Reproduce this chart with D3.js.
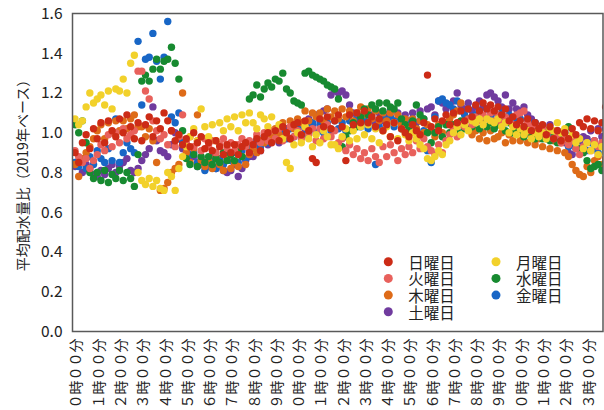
<!DOCTYPE html>
<html>
<head>
<meta charset="utf-8">
<script src="https://cdn.jsdelivr.net/npm/d3@7"></script>
<style>
  html, body { margin: 0; padding: 0; background: #fff; }
  svg { display: block; font-family: "Noto Sans CJK JP", "Noto Sans", sans-serif; }
</style>
</head>
<body>
<svg id="chart" width="604" height="410"></svg>
<script>
// Hourly axis labels (one per hour, 0時 to 23時)
const tickLabels = [
  "０時００分","１時００分","２時００分","３時００分","４時００分","５時００分",
  "６時００分","７時００分","８時００分","９時００分","１０時００分","１１時００分",
  "１２時００分","１３時００分","１４時００分","１５時００分","１６時００分","１７時００分",
  "１８時００分","１９時００分","２０時００分","２１時００分","２２時００分","２３時００分"
];
const tickHours = d3.range(24);

// 10-minute slots through the day (minutes after midnight)
const slots = d3.range(144).map(i => i * 10);

const seriesNames = ["日曜日", "月曜日", "火曜日", "水曜日", "木曜日", "金曜日", "土曜日"];

// Average distribution ratio per 10-minute slot (2019 base); six values per hour
const sun = [
  0.90,0.85,0.95,0.99,0.92,1.02, 0.97,1.05,0.95,1.06,1.01,0.98, 1.07,1.00,1.09,1.03,0.97,1.05, 0.96,1.04,1.08,0.98,1.06,1.02,
  1.10,1.06,1.01,0.96,0.99,0.94, 0.97,0.93,1.00,0.95,0.98,0.92, 0.95,0.91,0.96,0.93,0.89,0.94, 0.90,0.94,0.89,0.93,0.95,0.90,
  0.94,0.97,0.91,0.98,1.00,0.95, 1.01,0.96,1.03,1.00,0.97,1.04, 1.05,0.99,1.06,1.01,0.87,0.85, 1.07,1.03,1.08,1.02,1.06,1.09,
  1.03,0.86,1.09,1.04,1.10,1.05, 1.11,1.05,1.08,1.03,1.07,1.01, 1.04,0.98,1.05,0.96,1.02,1.00, 0.98,1.04,1.01,0.99,1.05,1.29,
  1.03,1.07,1.01,1.06,1.09,1.04, 1.10,1.05,1.11,1.06,1.12,1.08, 1.14,1.11,1.15,1.12,1.14,1.11, 1.13,1.09,1.12,1.06,1.08,1.04,
  1.06,1.03,1.07,1.01,1.05,1.02, 1.04,0.99,1.03,0.97,1.01,0.96, 1.00,0.97,1.02,0.99,1.05,1.03, 1.07,1.02,1.06,1.01,1.05,1.13
];
const mon = [
  1.07,1.04,1.06,1.13,1.20,1.15, 1.17,1.19,1.14,1.21,1.12,1.22, 1.21,1.27,1.20,1.35,1.39,0.80, 0.76,0.74,0.77,0.73,0.76,0.72,
  0.71,0.80,0.78,0.71,0.82,0.88, 0.93,0.98,1.02,0.96,1.12,1.03, 0.98,1.04,0.96,1.05,1.01,1.07, 1.03,1.08,1.01,1.09,1.05,1.10,
  1.05,1.02,1.09,1.07,1.03,1.08, 1.01,1.04,0.97,0.85,0.82,0.94, 1.00,0.95,1.03,0.97,0.93,0.99, 0.95,1.01,0.98,0.94,0.94,0.92,
  0.98,1.02,0.96,1.01,0.97,1.03, 0.99,1.04,0.97,1.02,0.95,1.01, 1.03,0.98,1.05,0.97,1.02,0.99, 0.96,1.00,0.97,0.94,0.92,0.87,
  0.86,0.88,0.91,0.89,0.94,0.96, 1.00,1.03,0.99,1.04,1.01,1.06, 1.05,1.07,1.04,1.07,1.06,1.05, 1.07,1.03,1.05,1.00,1.03,0.99,
  1.02,0.99,1.01,0.97,1.00,0.98, 1.00,0.97,1.02,1.01,1.05,1.00, 1.02,0.97,0.99,0.95,0.97,0.92, 0.95,0.91,0.94,0.89,0.93,0.90
];
const tue = [
  0.91,0.88,0.85,0.87,0.82,0.86, 0.89,0.94,0.91,0.99,0.93,1.00, 0.95,1.02,0.97,0.99,1.01,1.31, 1.31,1.21,1.17,1.06,1.01,0.97,
  0.99,0.94,1.01,0.93,0.98,1.09, 0.95,0.98,0.93,0.96,0.91,0.97, 0.93,0.96,0.90,0.94,0.97,0.92, 0.95,0.91,0.94,0.97,0.93,0.96,
  0.94,0.99,0.95,1.00,0.96,1.01, 0.97,1.02,0.96,0.99,1.03,0.98, 1.01,0.97,1.03,0.99,1.02,0.96, 1.02,0.97,1.04,0.98,1.01,0.95,
  0.97,0.91,0.94,0.89,0.92,0.87, 0.90,0.86,0.92,0.88,0.85,0.93, 0.88,0.94,0.90,0.86,0.92,0.89, 0.93,0.90,0.96,0.92,0.97,0.93,
  0.91,0.89,0.94,0.90,0.96,0.99, 1.02,0.98,1.04,1.03,1.07,1.04, 1.08,1.06,1.09,1.07,1.10,1.06, 1.09,1.05,1.08,1.06,1.04,1.09,
  1.10,1.11,1.05,1.03,1.04,1.00, 1.02,0.98,1.01,0.97,0.99,0.95, 0.97,0.94,0.96,0.92,0.89,0.93, 0.95,0.91,0.96,0.93,0.95,0.97
];
const wed = [
  1.04,1.00,1.06,0.95,0.80,0.77, 0.80,0.76,0.81,0.75,0.79,0.77, 0.81,0.76,0.80,0.77,0.73,0.89, 1.26,1.29,1.26,1.32,1.37,1.32,
  1.36,1.37,1.43,1.35,1.27,1.01, 0.87,0.84,0.89,0.83,0.88,0.85, 0.88,0.84,0.87,0.85,0.90,0.86, 0.89,0.86,0.91,0.88,0.94,1.17,
  1.19,1.24,1.18,1.22,1.25,1.23, 1.27,1.26,1.30,1.22,1.20,1.16, 1.15,1.14,1.30,1.31,1.29,1.28, 1.27,1.26,1.24,1.23,1.22,1.17,
  0.93,0.98,1.01,1.05,1.03,1.08, 1.12,1.09,1.14,1.12,1.15,1.11, 1.15,1.13,1.12,1.15,1.07,1.04, 1.01,1.06,1.14,1.09,1.07,1.00,
  0.95,1.00,1.03,0.98,1.04,1.00, 1.04,1.01,1.06,1.02,1.07,1.03, 1.06,1.02,1.07,1.03,1.05,1.02, 1.04,1.06,1.01,1.05,1.00,1.03,
  1.01,0.98,1.04,1.00,0.97,1.01, 0.97,1.01,0.96,1.00,0.95,0.99, 1.00,1.03,0.96,0.95,0.92,0.90, 0.86,0.82,0.83,0.84,0.81,0.85
];
const thu = [
  0.84,0.78,0.87,0.90,0.93,0.97, 1.01,1.04,0.97,1.05,1.00,1.06, 1.01,1.06,1.02,1.07,1.09,1.03, 1.03,0.98,1.02,0.96,0.85,0.71,
  0.72,0.75,0.80,0.82,0.84,1.20, 0.90,0.85,0.92,1.09,0.86,0.83, 0.86,0.82,0.88,0.84,0.81,0.87, 0.82,0.85,0.83,0.88,0.84,0.89,
  0.92,0.90,0.96,0.95,1.00,0.98, 1.02,0.99,1.05,1.00,1.06,1.02, 1.07,1.05,1.11,1.06,1.10,1.08, 1.10,1.06,1.12,1.08,1.11,1.07,
  1.12,1.08,1.11,1.06,1.10,1.13, 1.09,1.12,1.07,1.11,1.06,1.10, 1.06,1.10,1.05,1.09,1.04,1.07, 1.03,1.07,1.02,1.06,1.00,1.04,
  1.01,0.98,1.04,1.00,1.05,1.07, 1.09,1.11,1.15,1.05,1.02,0.99, 1.01,0.97,1.00,0.96,1.01,0.97, 0.98,1.00,0.95,0.99,0.96,1.00,
  0.96,0.99,0.95,0.98,0.94,0.97, 0.93,0.97,0.92,0.96,0.91,0.95, 0.90,0.88,0.84,0.81,0.79,0.78, 0.83,0.80,0.86,0.88,0.84,0.87
];
const fri = [
  0.85,0.83,0.87,0.82,0.88,0.84, 0.91,0.87,0.85,0.92,0.86,1.07, 0.85,0.90,0.95,0.92,0.90,1.46, 1.14,1.37,1.38,1.50,1.36,1.27,
  1.38,1.56,1.08,1.05,1.10,0.95, 0.93,0.89,0.90,0.85,0.84,0.81, 0.83,0.86,0.82,0.87,0.84,0.89, 0.86,0.90,0.85,0.91,0.87,0.92,
  0.94,0.96,0.93,0.98,0.95,0.99, 1.00,0.96,1.01,0.97,1.02,0.98, 1.02,1.04,0.99,1.03,1.05,1.00, 1.04,1.00,1.05,1.01,1.06,1.02,
  1.05,1.01,1.06,1.02,1.07,1.03, 1.06,1.02,1.07,0.84,1.03,1.08, 1.04,1.08,1.03,1.07,1.02,1.06, 1.03,1.07,1.02,1.06,1.01,0.91,
  0.85,1.08,1.16,1.17,1.15,1.14, 1.12,1.16,1.11,1.09,1.12,1.08, 1.09,1.11,1.07,1.12,1.08,1.10, 1.06,1.10,1.05,1.09,1.04,1.07,
  1.07,1.03,1.06,1.02,1.05,1.01, 1.02,0.99,1.01,0.97,1.00,0.96, 0.97,0.93,0.94,0.92,0.92,0.93, 0.91,0.95,0.92,0.90,0.94,0.92
];
const sat = [
  0.83,0.86,0.80,0.84,0.82,0.79, 0.78,0.81,0.79,0.82,0.84,0.80, 0.83,0.85,0.87,0.81,0.80,0.82, 0.86,0.89,0.92,1.13,0.96,0.91,
  0.90,0.88,0.94,1.00,0.97,0.92, 0.91,0.87,0.88,0.83,0.87,0.84, 0.85,0.88,0.82,0.86,0.81,0.80, 0.81,0.84,0.78,0.82,0.86,0.88,
  0.88,0.93,0.91,0.97,0.94,0.98, 0.99,0.95,1.00,1.02,0.97,1.03, 1.01,1.05,1.02,1.07,1.04,1.09, 1.06,1.11,1.12,1.19,1.21,1.20,
  1.21,1.19,1.14,1.10,1.08,1.05, 1.08,1.04,1.09,1.05,1.10,1.06, 1.09,1.11,1.06,1.10,1.05,1.09, 1.06,1.10,1.05,1.11,1.07,1.12,
  1.13,1.09,1.16,1.15,1.12,1.14, 1.16,1.20,1.14,1.12,1.15,1.11, 1.13,1.16,1.13,1.19,1.20,1.18, 1.16,1.13,1.19,1.12,1.15,1.12,
  1.11,1.13,1.09,1.07,1.05,1.03, 1.02,0.99,1.04,0.98,1.01,0.97, 0.95,0.90,0.89,0.93,0.96,0.98, 0.97,1.01,0.96,1.02,0.98,1.02
];
const seriesValues = [sun, mon, tue, wed, thu, fri, sat];

const yTicks = [0, 0.2, 0.4, 0.6, 0.8, 1.0, 1.2, 1.4, 1.6];

// Styling
const colors = ["#cc2b16", "#f2d12b", "#e8615c", "#178a30", "#de6b18", "#1866c6", "#703b9e"];
const plot = { left: 72.5, top: 13.5, right: 603, bottom: 331.5 };

const svg = d3.select("#chart");

const x = d3.scaleLinear().domain([-6.7, 1423]).range([plot.left, plot.right]);
const y = d3.scaleLinear().domain([0, 1.6]).range([plot.bottom, plot.top]);

svg.append("defs").append("clipPath").attr("id", "plot-clip")
  .append("rect")
  .attr("x", plot.left).attr("y", plot.top)
  .attr("width", plot.right - plot.left).attr("height", plot.bottom - plot.top);

// Dots: Saturday drawn first, Sunday last (on top)
const dotLayer = svg.append("g").attr("clip-path", "url(#plot-clip)");
const order = d3.range(seriesNames.length).reverse();
order.forEach(s => {
  dotLayer.append("g")
    .attr("fill", colors[s])
    .selectAll("circle")
    .data(seriesValues[s].map((v, i) => ({ t: slots[i], v })))
    .join("circle")
    .attr("cx", d => x(d.t))
    .attr("cy", d => y(d.v))
    .attr("r", 3.7);
});

// Plot frame
svg.append("rect")
  .attr("x", plot.left).attr("y", plot.top)
  .attr("width", plot.right - plot.left).attr("height", plot.bottom - plot.top)
  .attr("fill", "none").attr("stroke", "#595959").attr("stroke-width", 1.5);

// Y axis
const yAxis = svg.append("g")
  .attr("transform", `translate(${plot.left},0)`)
  .call(d3.axisLeft(y).tickValues(yTicks).tickFormat(d3.format(".1f")).tickSize(0).tickPadding(10));
yAxis.select(".domain").remove();
yAxis.selectAll("text")
  .attr("font-family", "'Noto Sans CJK JP', sans-serif")
  .attr("font-size", 15.5).attr("fill", "#222");

// X axis
const xAxis = svg.append("g")
  .attr("transform", `translate(0,${plot.bottom})`)
  .call(d3.axisBottom(x).tickValues(tickHours.map(h => h * 60)).tickFormat((d, i) => tickLabels[i]).tickSize(0));
xAxis.select(".domain").remove();
xAxis.selectAll("text")
  .attr("font-family", "'Noto Sans CJK JP', sans-serif")
  .attr("font-size", 14).attr("fill", "#222")
  .attr("transform", "rotate(-90)")
  .attr("x", -7).attr("y", 0).attr("dy", null)
  .attr("dominant-baseline", "central")
  .style("text-anchor", "end");

// Y axis title
svg.append("text")
  .attr("transform", "translate(22,172) rotate(-90)")
  .attr("text-anchor", "middle").attr("dominant-baseline", "central")
  .attr("font-size", 14).attr("fill", "#222")
  .text("平均配水量比（2019年ベース）");

// Legend (two columns, row-major)
const legend = svg.append("g");
seriesNames.forEach((name, i) => {
  const col = i % 2, row = Math.floor(i / 2);
  const cx = col === 0 ? 388.3 : 496;
  const cy = 261.7 + row * 16.7;
  legend.append("circle").attr("cx", cx).attr("cy", cy).attr("r", 4.5).attr("fill", colors[i]);
  legend.append("text").attr("x", cx + 20).attr("y", cy)
    .attr("dominant-baseline", "central")
    .attr("font-size", 15.5).attr("fill", "#222").text(name);
});
</script>
</body>
</html>
